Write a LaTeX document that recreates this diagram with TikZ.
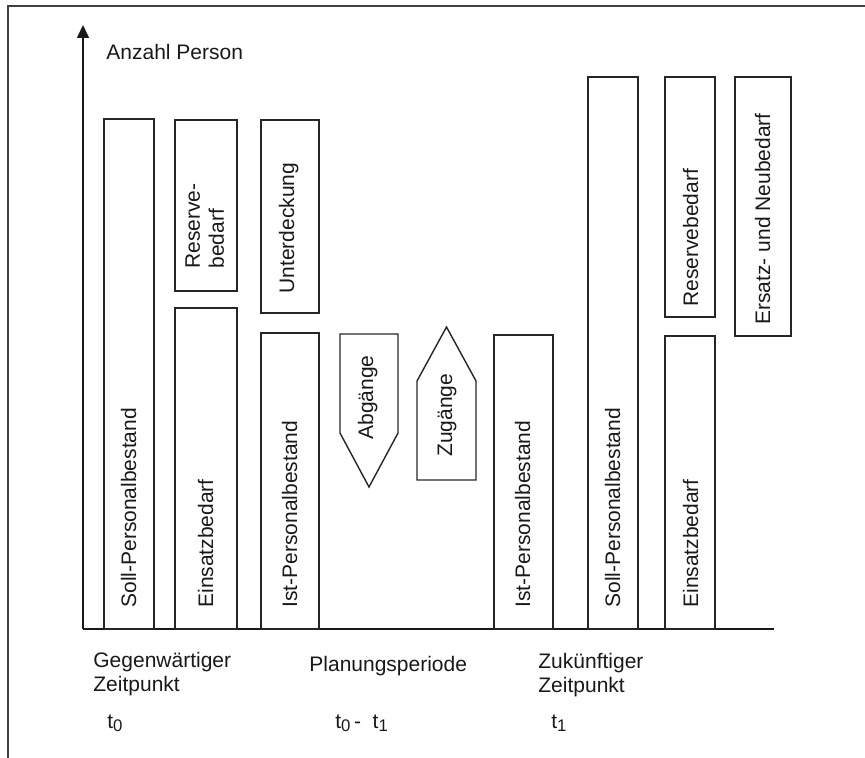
\documentclass[tikz,border=0pt]{standalone}
\usepackage{fontspec}
\setmainfont{Liberation Sans}
\usetikzlibrary{arrows.meta}
\newcommand{\lowsub}[1]{\raisebox{-1.6pt}{\fontsize{8.4}{8.4}\selectfont #1}}
\begin{document}
\begin{tikzpicture}[x=0.5pt,y=-0.5pt,
  frame/.style={draw=black!75, line width=1pt},
  ln/.style={draw=black!85, line width=0.7pt},
  axisline/.style={draw=black!90, line width=0.8pt},
  lbl/.style={inner sep=0pt, font=\fontsize{10.5}{12}\selectfont, text=black!90},
  vlbl/.style={lbl, rotate=90, anchor=base west},
]
\useasboundingbox (0,0) rectangle (865,758);
% frame
\coordinate (fb) at (7.5,758);
\coordinate (fc) at (7.5,6);
\coordinate (fr) at (865,6);
\draw[frame] (fb) -- (fc) -- (fr);
% axes
\coordinate (O) at (83,629);
\coordinate (ytip) at (83,25);
\coordinate (xend) at (774,629);
\draw[axisline, -{Triangle[width=6pt,length=6.5pt]}] (O) -- (ytip);
\draw[axisline] (O) -- (xend);
\node[lbl, anchor=base west] (ylab) at (106,60) {Anzahl Person};

% present time point
\draw[ln] (104,629) rectangle (154,119);
\node[vlbl] (soll1) at (136,608) {Soll-Personalbestand};
\draw[ln] (175,291) rectangle (237,120);
\node[lbl, rotate=90, anchor=north west, align=left] (res1) at (185,269) {Reserve-\\bedarf};
\draw[ln] (175,629) rectangle (237,308);
\node[vlbl] (eins1) at (213,608) {Einsatzbedarf};
\draw[ln] (261,313) rectangle (319,120);
\node[vlbl] (unter) at (294,294) {Unterdeckung};
\draw[ln] (261,629) rectangle (319,333);
\node[vlbl] (ist1) at (297,608) {Ist-Personalbestand};

% planning period
\draw[ln] (340,334) -- (398,334) -- (398,433) -- (369,487) -- (340,433) -- cycle;
\node[vlbl] (abg) at (373,440) {Abgänge};
\draw[ln] (417,480) -- (417,381) -- (446.5,327) -- (476,381) -- (476,480) -- cycle;
\node[vlbl] (zug) at (452,457) {Zugänge};

% future time point
\draw[ln] (494,629) rectangle (553,335);
\node[vlbl] (ist2) at (530,608) {Ist-Personalbestand};
\draw[ln] (588,629) rectangle (638,77);
\node[vlbl] (soll2) at (620,608) {Soll-Personalbestand};
\draw[ln] (665,317) rectangle (715,77);
\node[vlbl] (res2) at (698,307) {Reservebedarf};
\draw[ln] (665,629) rectangle (715,336);
\node[vlbl] (eins2) at (698,608) {Einsatzbedarf};
\draw[ln] (735,336) rectangle (791,77);
\node[vlbl] (ersatz) at (770,325) {Ersatz- und Neubedarf};

% bottom labels
\node[lbl, anchor=north west, align=left] (gegen) at (93,652) {Gegenwärtiger\\Zeitpunkt};
\node[lbl, anchor=base west] (plan) at (309,671) {Planungsperiode};
\node[lbl, anchor=north west, align=left] (zuk) at (538,653) {Zukünftiger\\Zeitpunkt};
\node[lbl, anchor=base west] (t0) at (107,728) {t\lowsub{0}};
\node[lbl, anchor=base west] (t01) at (335,728) {t\lowsub{0}\,-\ \ t\lowsub{1}};
\node[lbl, anchor=base west] (t1) at (551,728) {t\lowsub{1}};
\end{tikzpicture}
\end{document}
